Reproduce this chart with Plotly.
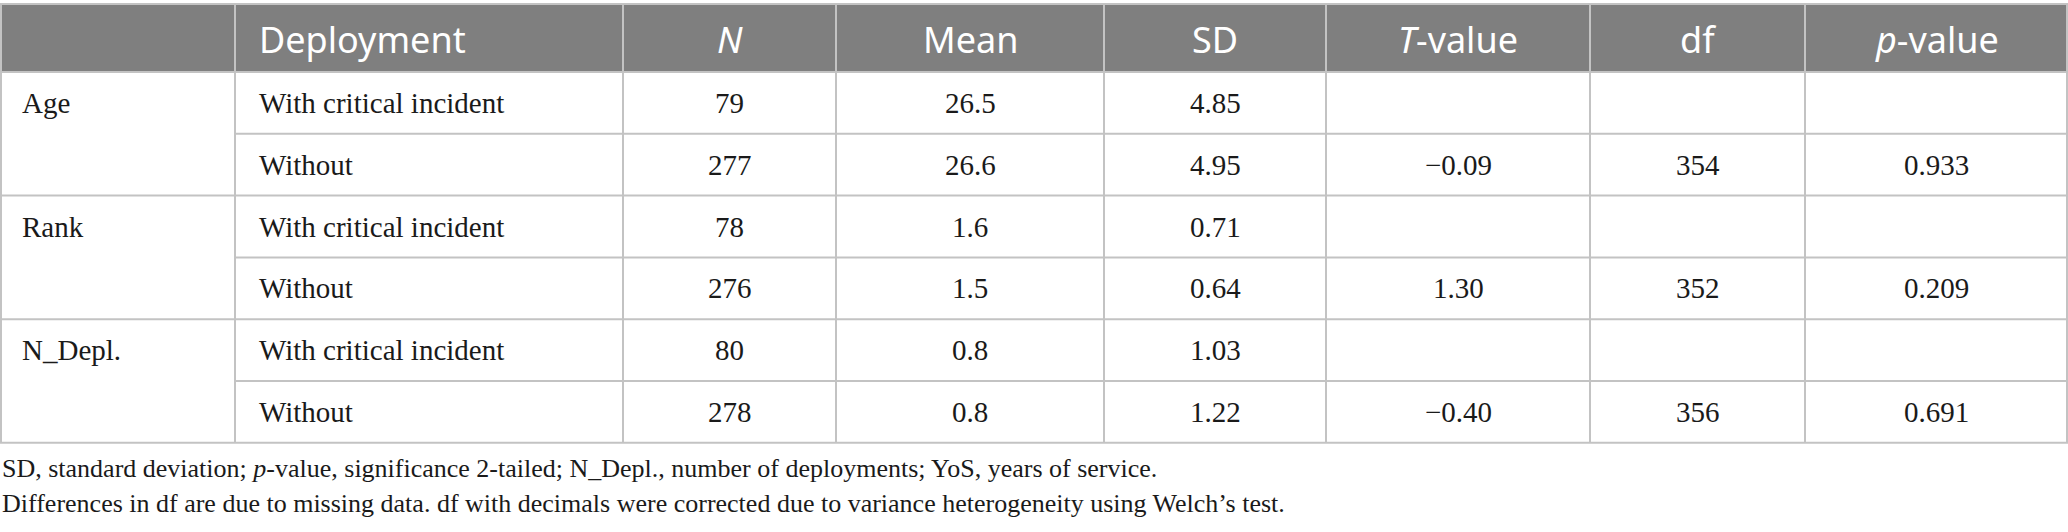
import numpy as np
import plotly.graph_objects as go

# Table content
headers = ["", "Deployment", "<i>N</i>", "Mean", "SD", "<i>T</i>-value", "df", "<i>p</i>-value"]
variables = ["Age", "", "Rank", "", "N_Depl.", ""]
deployment = ["With critical incident", "Without"] * 3
n_vals = ["79", "277", "78", "276", "80", "278"]
mean_vals = ["26.5", "26.6", "1.6", "1.5", "0.8", "0.8"]
sd_vals = ["4.85", "4.95", "0.71", "0.64", "1.03", "1.22"]
t_vals = ["", "\u22120.09", "", "1.30", "", "\u22120.40"]
df_vals = ["", "354", "", "352", "", "356"]
p_vals = ["", "0.933", "", "0.209", "", "0.691"]
footnotes = [
    "SD, standard deviation; <i>p</i>-value, significance 2-tailed; N_Depl., number of deployments; YoS, years of service.",
    "Differences in df are due to missing data. df with decimals were corrected due to variance heterogeneity using Welch\u2019s test.",
]

columns = [variables, deployment, n_vals, mean_vals, sd_vals, t_vals, df_vals, p_vals]

# Geometry (pixels)
W, H = 2068, 532
col_widths = [235, 388, 213, 268, 222, 264, 215, 263]
edges = np.concatenate([[0], np.cumsum(col_widths)])
top, head_bottom, row_h = 4, 72, 61.8
row_edges = head_bottom + row_h * np.arange(len(variables) + 1)
table_bottom = row_edges[-1]

grid = "#c3c3c3"
head_fill = "#7f7f7f"
text_col = "#1a1a1a"
serif = "Liberation Serif, Times New Roman, serif"
sans = "Noto Sans, Open Sans, sans-serif"

fig = go.Figure()
shapes = []
annotations = []

# header band
shapes.append(dict(type="rect", x0=0, x1=W, y0=top, y1=head_bottom,
                   fillcolor=head_fill, line=dict(width=0), layer="below"))

# horizontal lines (the variable column spans two rows, so no line there between pairs)
shapes.append(dict(type="line", x0=0, x1=W, y0=top, y1=top, line=dict(color=grid, width=2)))
shapes.append(dict(type="line", x0=0, x1=W, y0=head_bottom, y1=head_bottom, line=dict(color=grid, width=2)))
for i, y in enumerate(row_edges[1:], start=1):
    x_start = 0 if i % 2 == 0 else edges[1]
    shapes.append(dict(type="line", x0=x_start, x1=W, y0=y, y1=y, line=dict(color=grid, width=2)))

# vertical lines
for x in edges:
    x = min(max(x, 1), W - 1)
    shapes.append(dict(type="line", x0=x, x1=x, y0=top, y1=table_bottom, line=dict(color=grid, width=2)))

# header text
for j, h in enumerate(headers):
    if not h:
        continue
    if j == 1:
        xa, xpos = "left", edges[1] + 22
    else:
        xa, xpos = "center", (edges[j] + edges[j + 1]) / 2
    annotations.append(dict(x=xpos, y=(top + head_bottom) / 2 + 1, text=h, showarrow=False,
                            xanchor=xa, yanchor="middle",
                            font=dict(family=sans, size=36, color="white")))

# body text
for j, col in enumerate(columns):
    for i, val in enumerate(col):
        if not val:
            continue
        yc = (row_edges[i] + row_edges[i + 1]) / 2
        if j == 0:
            xa, xpos = "left", edges[0] + 20
        elif j == 1:
            xa, xpos = "left", edges[1] + 22
        else:
            xa, xpos = "center", (edges[j] + edges[j + 1]) / 2
        annotations.append(dict(x=xpos, y=yc, text=val, showarrow=False,
                                xanchor=xa, yanchor="middle",
                                font=dict(family=serif, size=29, color=text_col)))

# footnotes
for k, note in enumerate(footnotes):
    annotations.append(dict(x=0, y=468 + 35 * k, text=note, showarrow=False,
                            xanchor="left", yanchor="middle",
                            font=dict(family=serif, size=26, color=text_col)))

fig.update_layout(
    width=W, height=H,
    margin=dict(l=0, r=0, t=0, b=0),
    paper_bgcolor="white", plot_bgcolor="white",
    xaxis=dict(range=[0, W], visible=False, fixedrange=True),
    yaxis=dict(range=[H, 0], visible=False, fixedrange=True),
    shapes=shapes, annotations=annotations,
    showlegend=False,
)

fig.write_html("out.html", config={"displayModeBar": False},
               post_script="document.body.style.margin='0';document.body.style.overflow='hidden';")
